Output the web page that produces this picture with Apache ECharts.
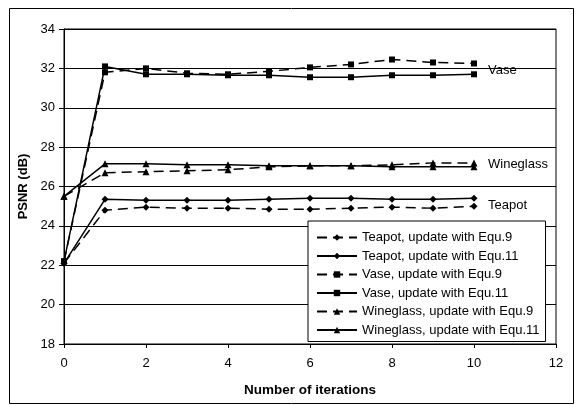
<!DOCTYPE html>
<html><head><meta charset="utf-8">
<script src="https://cdn.jsdelivr.net/npm/echarts@6/dist/echarts.min.js"></script>
<style>html,body{margin:0;padding:0;background:#fff}#c{width:577px;height:405px}</style>
</head><body><div id="c"></div>
<script>
const iterations = [0,1,2,3,4,5,6,7,8,9,10];
const teapotEq9   = [22.1,24.8,24.95,24.9,24.9,24.85,24.85,24.9,24.95,24.9,25.0];
const teapotEq11  = [22.1,25.35,25.3,25.3,25.3,25.35,25.4,25.4,25.35,25.35,25.4];
const vaseEq9     = [22.2,31.8,32.0,31.75,31.7,31.85,32.05,32.2,32.45,32.3,32.25];
const vaseEq11    = [22.2,32.1,31.7,31.7,31.65,31.65,31.55,31.55,31.65,31.65,31.7];
const wineEq9     = [25.5,26.7,26.75,26.8,26.85,27.0,27.05,27.05,27.1,27.2,27.2];
const wineEq11    = [25.5,27.15,27.15,27.1,27.1,27.05,27.05,27.05,27.0,27.0,27.0];
const seriesNames = ['Teapot, update with Equ.9','Teapot, update with Equ.11','Vase, update with Equ.9','Vase, update with Equ.11','Wineglass, update with Equ.9','Wineglass, update with Equ.11'];
const yTicks = [18,20,22,24,26,28,30,32,34];
const xTicks = [0,2,4,6,8,10,12];

const FONT = 'Liberation Sans, Arial, sans-serif';
function mk(name, vals, symbol, dashed, symSize, endText, endOffset){
  const s = {
    name, type:'line', data: iterations.map((x,i)=>[x, vals[i]]),
    symbol, symbolSize: symSize, showSymbol:true,
    itemStyle:{color:'#000'},
    lineStyle:{color:'#000', width:1.5, type: dashed ? [10,6] : 'solid'},
    animation:false, z:3
  };
  if (endText){
    s.endLabel = {show:true, formatter:endText, color:'#000', fontFamily:FONT, fontSize:13, distance:14, offset:endOffset};
  }
  return s;
}
const chart = echarts.init(document.getElementById('c'), null, {renderer:'canvas'});
chart.setOption({
  backgroundColor:'#fff',
  animation:false,
  grid:{left:64, right:21, top:29, bottom:61, show:true, borderColor:'#000', borderWidth:1},
  xAxis:{type:'value', min:xTicks[0], max:xTicks[xTicks.length-1], interval:2,
    name:'Number of iterations', nameLocation:'middle', nameGap:39,
    nameTextStyle:{fontFamily:FONT, fontWeight:'bold', fontSize:13.5, color:'#000'},
    axisLine:{show:true, lineStyle:{color:'#000', width:1}},
    axisTick:{show:true, length:4, lineStyle:{color:'#000'}},
    axisLabel:{fontFamily:FONT, fontSize:13, color:'#000', margin:13},
    splitLine:{show:false}},
  yAxis:{type:'value', min:yTicks[0], max:yTicks[yTicks.length-1], interval:2,
    name:'PSNR (dB)', nameLocation:'middle', nameGap:28, nameRotate:90,
    nameTextStyle:{fontFamily:FONT, fontWeight:'bold', fontSize:13, color:'#000'},
    axisLine:{show:true, lineStyle:{color:'#000', width:1}},
    axisTick:{show:true, length:5, lineStyle:{color:'#000'}},
    axisLabel:{fontFamily:FONT, fontSize:13, color:'#000', margin:9},
    splitLine:{show:true, lineStyle:{color:'#000', width:1}}},
  legend:{orient:'vertical', left:308, top:221, data:seriesNames,
    backgroundColor:'#fff', borderColor:'#000', borderWidth:1,
    padding:[10,6,5,8], itemWidth:40, itemHeight:8, itemGap:5.5,
    textStyle:{fontFamily:FONT, fontSize:13, color:'#000'}},
  series:[
    mk(seriesNames[0], teapotEq9, 'diamond', true, 7, 'Teapot', [0,-1]),
    mk(seriesNames[1], teapotEq11, 'diamond', false, 7),
    mk(seriesNames[2], vaseEq9, 'rect', true, 6, 'Vase', [0,7]),
    mk(seriesNames[3], vaseEq11, 'rect', false, 6),
    mk(seriesNames[4], wineEq9, 'triangle', true, 7, 'Wineglass', [0,2]),
    mk(seriesNames[5], wineEq11, 'triangle', false, 7)
  ],
  graphic:[{type:'rect', shape:{x:9.5, y:8.5, width:564, height:395}, style:{fill:null, stroke:'#000', lineWidth:1}, silent:true, z:-1}]
});
</script></body></html>
